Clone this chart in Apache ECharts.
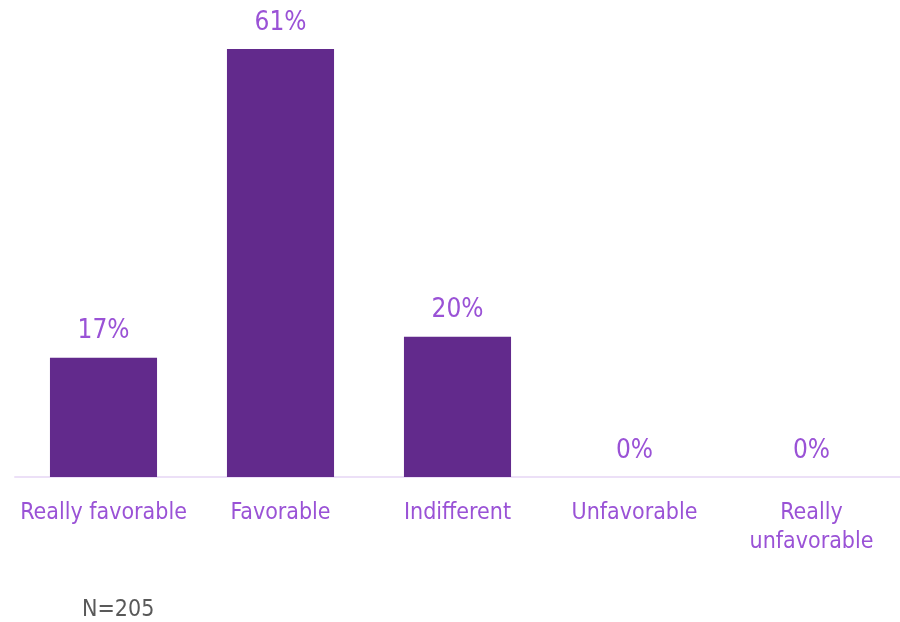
<!DOCTYPE html>
<html>
<head>
<meta charset="utf-8">
<script src="https://cdn.jsdelivr.net/npm/echarts@6/dist/echarts.min.js"></script>
<style>
  html, body { margin: 0; padding: 0; background: #ffffff; }
  #chart { width: 900px; height: 622px; }
</style>
</head>
<body>
<div id="chart"></div>
<script>
// Survey answers and the share of respondents for each
const categories = ['Really favorable', 'Favorable', 'Indifferent', 'Unfavorable', 'Really\nunfavorable'];
const shares = [17, 61, 20, 0, 0];
const sampleNote = 'N=205';

const FONT = '"DejaVu Sans Condensed", "DejaVu Sans", sans-serif';
const BAR = '#622a8c';
const LABEL = '#9a52d6';

const chart = echarts.init(document.getElementById('chart'), null, { renderer: 'canvas' });
chart.setOption({
  animation: false,
  grid: { left: 15, right: 0, top: 49, bottom: 145, containLabel: false },
  xAxis: {
    type: 'category',
    data: categories,
    axisLine: { show: true, lineStyle: { color: '#ece0f7', width: 2 } },
    axisTick: { show: false },
    axisLabel: {
      color: LABEL,
      fontFamily: FONT,
      fontSize: 23,
      margin: 22,
      lineHeight: 29,
      interval: 0
    }
  },
  yAxis: {
    type: 'value',
    min: 0,
    max: 61,
    show: false,
    splitLine: { show: false }
  },
  series: [{
    type: 'bar',
    data: shares,
    barWidth: '60.5%',
    itemStyle: { color: BAR },
    label: {
      show: true,
      position: 'top',
      distance: 13,
      color: LABEL,
      fontFamily: FONT,
      fontSize: 26,
      formatter: p => p.value + '%'
    }
  }],
  graphic: [{
    type: 'text',
    left: 82,
    top: 599,
    style: {
      text: sampleNote,
      fill: '#595959',
      font: '23px ' + FONT
    }
  }]
});
</script>
</body>
</html>
